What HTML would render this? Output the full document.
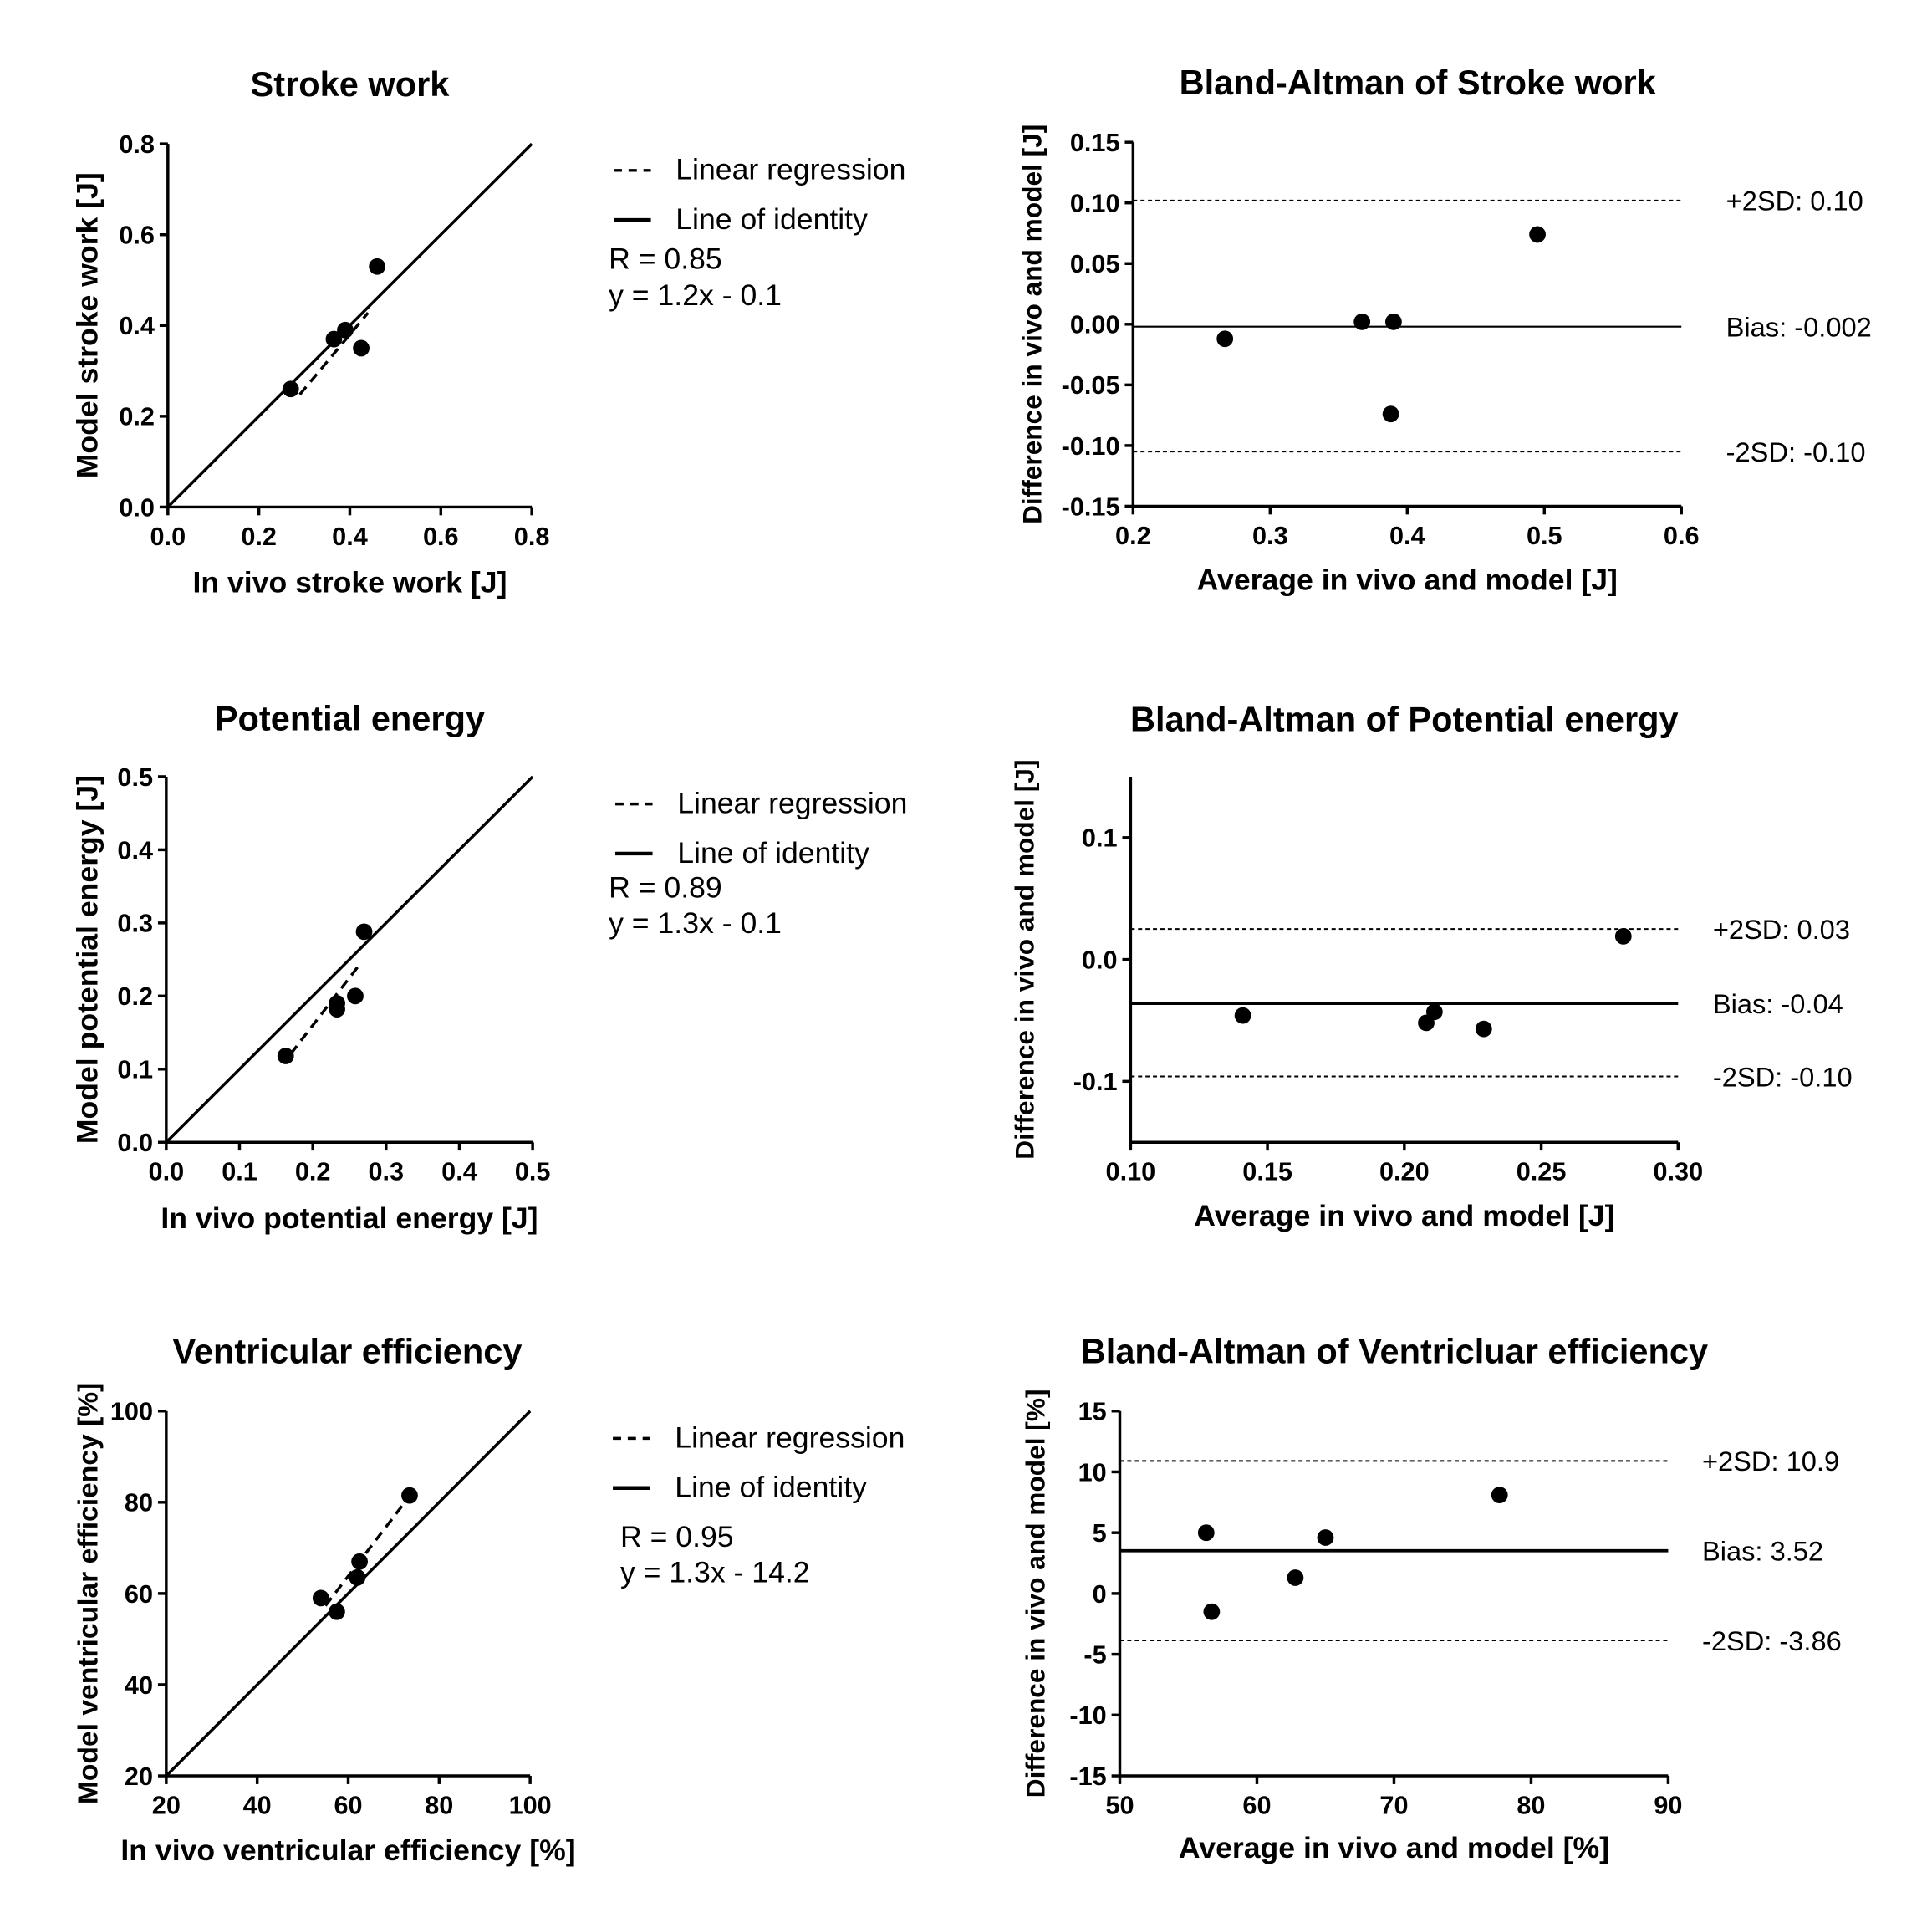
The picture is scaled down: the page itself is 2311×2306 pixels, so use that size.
<!DOCTYPE html>
<html><head><meta charset="utf-8"><style>
html,body{margin:0;padding:0;background:#fff}
svg{display:block;font-family:"Liberation Sans",Arial,sans-serif}
</style></head><body>
<svg width="2311" height="2306" viewBox="0 0 2311 2306" xmlns="http://www.w3.org/2000/svg"><g id="fig" transform="scale(0.9893)"></g></svg>
<script>
// ---- data ----
const swX = [0.27, 0.365, 0.39, 0.425, 0.46];
const swY = [0.26, 0.37, 0.39, 0.35, 0.53];
const swReg = [0.29, 0.44]; const swSlope = 1.2; const swInt = -0.1;
const baSwX = [0.267, 0.367, 0.39, 0.388, 0.495];
const baSwY = [-0.012, 0.002, 0.002, -0.074, 0.074];
const baSwLines = [0.102, -0.002, -0.105];
const baSwLabels = ["+2SD: 0.10", "Bias: -0.002", "-2SD: -0.10"];
const peX = [0.163, 0.233, 0.233, 0.258, 0.27];
const peY = [0.118, 0.19, 0.182, 0.2, 0.288];
const peReg = [0.17, 0.265]; const peSlope = 1.3; const peInt = -0.1;
const baPeX = [0.141, 0.208, 0.211, 0.229, 0.28];
const baPeY = [-0.046, -0.052, -0.043, -0.057, 0.019];
const baPeLines = [0.025, -0.036, -0.096];
const baPeLabels = ["+2SD: 0.03", "Bias: -0.04", "-2SD: -0.10"];
const veX = [54, 57.5, 62, 62.5, 73.5];
const veY = [59, 56, 63.5, 67, 81.5];
const veReg = [55, 73]; const veSlope = 1.3; const veInt = -14.2;
const baVeX = [56.3, 56.7, 62.8, 65, 77.7];
const baVeY = [5, -1.5, 1.3, 4.6, 8.1];
const baVeLines = [10.9, 3.52, -3.86];
const baVeLabels = ["+2SD: 10.9", "Bias: 3.52", "-2SD: -3.86"];

const NS = "http://www.w3.org/2000/svg";
const svg = document.getElementById('fig');
function mk(tag, attrs, parent, txt){
  const e = document.createElementNS(NS, tag);
  for (const k in attrs) e.setAttribute(k, attrs[k]);
  if (txt !== undefined) e.textContent = txt;
  (parent || svg).appendChild(e); return e;
}
function panel(o){
  const g = mk('g', {});
  
  
  const sx = v => o.x0 + (v - o.xmin) / (o.xmax - o.xmin) * (o.x1 - o.x0);
  const sy = v => o.y1 - (v - o.ymin) / (o.ymax - o.ymin) * (o.y1 - o.y0);
  const t = mk('text', {x: o.tx, y: o.ty, 'font-size': 42, 'font-weight': 'bold', 'text-anchor': 'middle'}, g, o.title);
  
  
  const ax = mk('path', {d: `M${o.x0},${o.y0} V${o.y1} H${o.x1}`, stroke: '#000', 'stroke-width': 3.5, fill: 'none'}, g);
  
  
  o.xticks.forEach((v, i) => {
    const X = sx(v);
    mk('line', {x1: X, x2: X, y1: o.y1, y2: o.y1 + 10, stroke: '#000', 'stroke-width': 3.5}, g);
    const l = mk('text', {x: X, y: o.y1 + 46, 'font-size': 31, 'font-weight': 'bold', 'text-anchor': 'middle'}, g, o.xlabels[i]);
    
    
  });
  o.yticks.forEach((v, i) => {
    const Y = sy(v);
    mk('line', {x1: o.x0 - 10, x2: o.x0, y1: Y, y2: Y, stroke: '#000', 'stroke-width': 3.5}, g);
    const l = mk('text', {x: o.x0 - 16, y: Y + 11, 'font-size': 31, 'font-weight': 'bold', 'text-anchor': 'end'}, g, o.ylabels[i]);
    
    
  });
  const xt = mk('text', {x: (o.x0 + o.x1) / 2, y: o.xty, 'font-size': 36, 'font-weight': 'bold', 'text-anchor': 'middle'}, g, o.xtitle);
  
  
  const yc = (o.y0 + o.y1) / 2;
  const yt = mk('text', {x: o.ytx, y: yc, 'font-size': o.ytf, 'font-weight': 'bold', 'text-anchor': 'middle', transform: `rotate(-90 ${o.ytx} ${yc})`}, g, o.ytitle);
  
  
  if (o.identity) {
    const lo = Math.max(o.xmin, o.ymin), hi = Math.min(o.xmax, o.ymax);
    const li = mk('line', {x1: sx(lo), y1: sy(lo), x2: sx(hi), y2: sy(hi), stroke: '#000', 'stroke-width': 3.5}, g);
    
    
    const r = o.reg;
    const rl = mk('line', {x1: sx(r[0]), y1: sy(o.slope * r[0] + o.int), x2: sx(r[1]), y2: sy(o.slope * r[1] + o.int), stroke: '#000', 'stroke-width': 3.5, 'stroke-dasharray': '12,8'}, g);
    
    
    const L = o.leg;
    mk('line', {x1: L.dx, x2: L.dx + 45, y1: L.y1 - 11, y2: L.y1 - 11, stroke: '#000', 'stroke-width': 3.5, 'stroke-dasharray': '10,8'}, g);
    const e1 = mk('text', {x: L.tx, y: L.y1, 'font-size': 36}, g, 'Linear regression');
    
    
    mk('line', {x1: L.dx, x2: L.dx + 45, y1: L.y2 - 11, y2: L.y2 - 11, stroke: '#000', 'stroke-width': 4.5}, g);
    const e2 = mk('text', {x: L.tx, y: L.y2, 'font-size': 36}, g, 'Line of identity');
    
    
    const e3 = mk('text', {x: L.rx, y: L.y3, 'font-size': 36}, g, L.r);
    
    
    const e4 = mk('text', {x: L.rx, y: L.y4, 'font-size': 36}, g, L.eq);
    
    
  }
  if (o.lines) {
    o.lines.forEach((v, i) => {
      const Y = sy(v);
      const bias = i === 1;
      const ln = mk('line', {x1: o.x0, x2: o.x1, y1: Y, y2: Y, stroke: '#000', 'stroke-width': bias ? o.biasW : 2, 'stroke-dasharray': bias ? '' : '5,4'}, g);
      
      
      const lb = mk('text', {x: o.lx, y: Y + 12, 'font-size': 33}, g, o.labels[i]);
      
      
    });
  }
  o.px.forEach((v, i) => {
    const c = mk('circle', {cx: sx(v), cy: sy(o.py[i]), r: 10, fill: '#000'}, g);
    
    
  });
}
panel({name:'stroke-work-scatter', title:'Stroke work', tx:423, ty:116, x0:203, x1:643, y0:174, y1:613,
  xmin:0, xmax:0.8, ymin:0, ymax:0.8, xticks:[0,0.2,0.4,0.6,0.8], xlabels:['0.0','0.2','0.4','0.6','0.8'],
  yticks:[0,0.2,0.4,0.6,0.8], ylabels:['0.0','0.2','0.4','0.6','0.8'], xtitle:'In vivo stroke work [J]', xty:716,
  ytitle:'Model stroke work [J]', ytx:118, ytf:36, px:swX, py:swY, identity:true, reg:swReg, slope:swSlope, int:swInt,
  leg:{dx:742, tx:817, rx:736, y1:217, y2:277, y3:325, y4:369, r:'R = 0.85', eq:'y = 1.2x - 0.1'}});
panel({name:'stroke-work-bland-altman', title:'Bland-Altman of Stroke work', tx:1714, ty:114, x0:1370, x1:2033, y0:172, y1:612,
  xmin:0.2, xmax:0.6, ymin:-0.15, ymax:0.15, xticks:[0.2,0.3,0.4,0.5,0.6], xlabels:['0.2','0.3','0.4','0.5','0.6'],
  yticks:[-0.15,-0.1,-0.05,0,0.05,0.1,0.15], ylabels:['-0.15','-0.10','-0.05','0.00','0.05','0.10','0.15'],
  xtitle:'Average in vivo and model [J]', xty:713, ytitle:'Difference in vivo and model [J]', ytx:1259, ytf:32,
  px:baSwX, py:baSwY, lines:baSwLines, labels:baSwLabels, lx:2087, biasW:2.2});
panel({name:'potential-energy-scatter', title:'Potential energy', tx:423, ty:883, x0:201, x1:644, y0:939, y1:1381,
  xmin:0, xmax:0.5, ymin:0, ymax:0.5, xticks:[0,0.1,0.2,0.3,0.4,0.5], xlabels:['0.0','0.1','0.2','0.3','0.4','0.5'],
  yticks:[0,0.1,0.2,0.3,0.4,0.5], ylabels:['0.0','0.1','0.2','0.3','0.4','0.5'], xtitle:'In vivo potential energy [J]', xty:1485,
  ytitle:'Model potential energy [J]', ytx:118, ytf:36, px:peX, py:peY, identity:true, reg:peReg, slope:peSlope, int:peInt,
  leg:{dx:744, tx:819, rx:736, y1:983, y2:1043, y3:1085, y4:1128, r:'R = 0.89', eq:'y = 1.3x - 0.1'}});
panel({name:'potential-energy-bland-altman', title:'Bland-Altman of Potential energy', tx:1698, ty:884, x0:1367, x1:2029, y0:939, y1:1381,
  xmin:0.1, xmax:0.3, ymin:-0.15, ymax:0.15, xticks:[0.1,0.15,0.2,0.25,0.3], xlabels:['0.10','0.15','0.20','0.25','0.30'],
  yticks:[-0.1,0,0.1], ylabels:['-0.1','0.0','0.1'],
  xtitle:'Average in vivo and model [J]', xty:1482, ytitle:'Difference in vivo and model [J]', ytx:1250, ytf:32,
  px:baPeX, py:baPeY, lines:baPeLines, labels:baPeLabels, lx:2071, biasW:3.8});
panel({name:'ventricular-efficiency-scatter', title:'Ventricular efficiency', tx:420, ty:1648, x0:201, x1:641, y0:1706, y1:2147,
  xmin:20, xmax:100, ymin:20, ymax:100, xticks:[20,40,60,80,100], xlabels:['20','40','60','80','100'],
  yticks:[20,40,60,80,100], ylabels:['20','40','60','80','100'], xtitle:'In vivo ventricular efficiency [%]', xty:2249,
  ytitle:'Model ventricular efficiency [%]', ytx:118, ytf:34, px:veX, py:veY, identity:true, reg:veReg, slope:veSlope, int:veInt,
  leg:{dx:741, tx:816, rx:750, y1:1750, y2:1810, y3:1870, y4:1913, r:'R = 0.95', eq:'y = 1.3x - 14.2'}});
panel({name:'ventricular-efficiency-bland-altman', title:'Bland-Altman of Ventricluar efficiency', tx:1686, ty:1648, x0:1354, x1:2017, y0:1706, y1:2147,
  xmin:50, xmax:90, ymin:-15, ymax:15, xticks:[50,60,70,80,90], xlabels:['50','60','70','80','90'],
  yticks:[-15,-10,-5,0,5,10,15], ylabels:['-15','-10','-5','0','5','10','15'],
  xtitle:'Average in vivo and model [%]', xty:2246, ytitle:'Difference in vivo and model [%]', ytx:1263, ytf:32,
  px:baVeX, py:baVeY, lines:baVeLines, labels:baVeLabels, lx:2058, biasW:3.8});
</script>
</body></html>
